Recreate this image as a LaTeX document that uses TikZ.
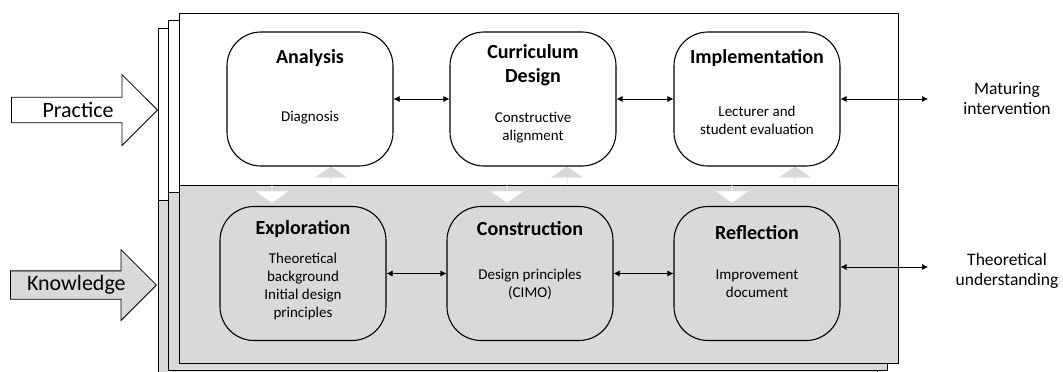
\documentclass[tikz,border=0pt]{standalone}
\usepackage{fontspec}
\setmainfont{Carlito}
\usetikzlibrary{shapes.arrows, arrows.meta}
\definecolor{panelgray}{HTML}{D9D9D9}

\begin{document}
\begin{tikzpicture}[x=1pt, y=-1pt,
  box/.style={draw, line width=1.1pt, rounded corners=34pt, minimum width=166pt, minimum height=134pt},
  ttl/.style={anchor=base, align=center, font=\bfseries\fontsize{20}{24}\selectfont},
  txt/.style={anchor=base, align=center, font=\fontsize{15}{18}\selectfont},
  side/.style={anchor=base, align=center, font=\fontsize{17.5}{20}\selectfont},
  link/.style={<->, >={Latex[length=6pt, width=6pt]}, line width=0.6pt},
  bigarrow/.style={single arrow, draw, line width=0.8pt, single arrow head extend=18pt,
    minimum width=71pt, minimum height=146pt, inner sep=2pt, anchor=tip,
    font=\fontsize{22}{26}\selectfont},
  updown/.style={single arrow, single arrow tip angle=110, single arrow head extend=8pt,
    minimum width=32pt, minimum height=19pt, inner sep=0pt}
]
\useasboundingbox (0,0) rectangle (1063,372);

% stacked panels, back to front
\foreach \dx/\dy in {-21/15, -11/7, 0/0}{
  \fill[white] (179+\dx,13+\dy) rectangle (898+\dx,185+\dy);
  \fill[panelgray] (179+\dx,185+\dy) rectangle (898+\dx,363+\dy);
  \draw[line width=0.9pt] (179+\dx,13+\dy) rectangle (898+\dx,363+\dy);
  \draw[line width=0.9pt] (179+\dx,185+\dy) -- (898+\dx,185+\dy);
}

% side arrows
\node[bigarrow, fill=white] (prac) at (158,110) {Practice};
\node[bigarrow, fill=panelgray] (know) at (157,285) {Knowledge};

% arrows between the two layers
\node[updown, fill=panelgray, rotate=90] (u1) at (331,176) {};
\node[updown, fill=panelgray, rotate=90] (u2) at (567,176) {};
\node[updown, fill=panelgray, rotate=90] (u3) at (795,176) {};
\node[updown, fill=white, rotate=-90] (d1) at (272,193) {};
\node[updown, fill=white, rotate=-90] (d2) at (507,193) {};
\node[updown, fill=white, rotate=-90] (d3) at (732,193) {};

% boxes
\node[box, fill=white] (ana) at (310,99) {};
\node[box, fill=white] (cur) at (533,99) {};
\node[box, fill=white] (imp) at (757,99) {};
\node[box] (exp) at (303,273.5) {};
\node[box] (con) at (530,273.5) {};
\node[box] (ref) at (757,273.5) {};

% texts (base = baseline of the last line)
\node[ttl] (anat) at (310,63) {Analysis};
\node[txt] (anab) at (310,121) {Diagnosis};
\node[ttl] (curt) at (533,82) {Curriculum\\Design};
\node[txt] (curb) at (533,140) {Constructive\\alignment};
\node[ttl] (impt) at (757,63) {Implementation};
\node[txt] (impb) at (757,134) {Lecturer and\\student evaluation};
\node[ttl] (expt) at (303,234) {Exploration};
\node[txt] (expb) at (303,317) {Theoretical\\background\\Initial design\\principles};
\node[ttl] (cont) at (530,235) {Construction};
\node[txt] (conb) at (530,297) {Design principles\\(CIMO)};
\node[ttl] (reft) at (757,239) {Reflection};
\node[txt] (refb) at (757,297) {Improvement\\document};

% outcomes
\coordinate (mat) at (928,99);
\coordinate (thu) at (928,267);
\node[side] (matl) at (1007,114) {Maturing\\intervention};
\node[side] (thul) at (1007,285) {Theoretical\\understanding};

\draw[link] (ana.east) -- (cur.west);
\draw[link] (cur.east) -- (imp.west);
\draw[link] (imp.east) -- (mat);
\draw[link] (exp.east) -- (con.west);
\draw[link] (con.east) -- (ref.west);
\draw[link] (ref.east |- thu) -- (thu);
\end{tikzpicture}
\end{document}
